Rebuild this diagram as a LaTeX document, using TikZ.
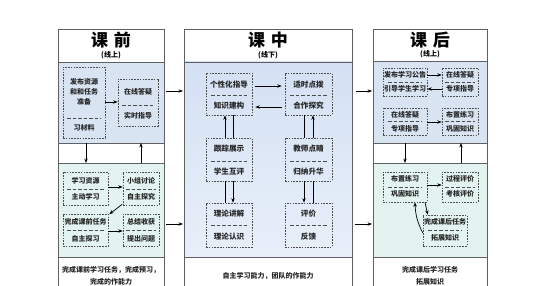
\documentclass[tikz,border=0pt]{standalone}
\usepackage{fontspec}
\setmainfont{Noto Sans CJK SC}
\usetikzlibrary{arrows.meta,calc}
\definecolor{blueA}{RGB}{217,228,243}
\definecolor{greenA}{RGB}{226,243,240}
\definecolor{blueT}{RGB}{212,225,244}
\definecolor{blueB}{RGB}{232,239,249}
\definecolor{frameC}{RGB}{95,95,100}
\begin{document}
\begin{tikzpicture}[x=1pt,y=-1pt,
  frame/.style={draw=frameC, line width=0.7pt},
  dbox/.style={draw=black!70, line width=0.55pt, dash pattern=on 1.6pt off 1.2pt, inner sep=0pt, rectangle},
  sepl/.style={draw=black!70, line width=0.55pt, dash pattern=on 3.5pt off 2pt},
  txt/.style={font=\bfseries\fontsize{7}{8}\selectfont, inner sep=0pt, text=black!85},
  ctxt/.style={font=\bfseries\fontsize{7.6}{9}\selectfont, inner sep=0pt, text=black!85},
  arr/.style={-{Stealth[length=4.5pt,width=3.4pt]}, line width=0.7pt},
  ln/.style={line width=0.7pt},
  ttl/.style={font=\bfseries\fontsize{17}{18}\selectfont, inner sep=0pt},
  subt/.style={font=\bfseries\fontsize{7}{8}\selectfont, inner sep=0pt},
]
\useasboundingbox (0,0) rectangle (554,286);
\fill[white] (0,0) rectangle (554,286);
% ---------- backgrounds ----------
\fill[blueA] (58,62) rectangle (164,143);
\fill[greenA] (58,163) rectangle (164,257);
\shade[top color=blueT, bottom color=blueB] (184,62) rectangle (352,257);
\fill[blueA] (373,61) rectangle (487,143);
\fill[greenA] (373,163) rectangle (487,257);
% ---------- frames ----------
\draw[frame] (58,287) -- (58,29) -- (164,29) -- (164,287);
\foreach \yy in {62,143,163,257} \draw[frame] (58,\yy) -- (164,\yy);
\draw[frame] (184,287) -- (184,29) -- (352,29) -- (352,287);
\foreach \yy in {62,257} \draw[frame] (184,\yy) -- (352,\yy);
\draw[frame] (373,287) -- (373,29) -- (487,29) -- (487,287);
\foreach \yy in {61,143,163,257} \draw[frame] (373,\yy) -- (487,\yy);
% ---------- headers ----------
\node[ttl] (h1) at (111,40) {课\hspace{0.35em}前};
\node[subt] (h1s) at (111,55) {(线上)};
\node[ttl] (h2) at (268,40) {课\hspace{0.35em}中};
\node[subt] (h2s) at (268,55) {(线下)};
\node[ttl] (h3) at (430,40) {课\hspace{0.35em}后};
\node[subt] (h3s) at (430,54) {(线上)};
% ---------- left column ----------
\node[dbox, minimum width=42pt, minimum height=71pt] (L1) at (84,102.5) {};
\node[txt] (L1a) at (84,82) {发布资源};
\node[txt] (L1b) at (84,92) {和和任务};
\node[txt] (L1c) at (84,101.5) {准备};
\draw[sepl] (67,118) -- (101,118);
\node[txt] (L1d) at (84,128) {习材料};
\node[dbox, minimum width=40pt, minimum height=47pt] (L2) at (138,102.5) {};
\node[txt] (L2a) at (138,92) {在线答疑};
\draw[sepl] (122,105) -- (154,105);
\node[txt] (L2b) at (138,116) {实时指导};
\draw[arr] (L1.east |- 0,102) -- (L2.west |- 0,102);

\coordinate (ls1) at (86,143); \coordinate (ls2) at (86,163);
\coordinate (ls3) at (141,163); \coordinate (ls4) at (141,143);
\draw[arr] (ls1) -- (ls2);
\draw[arr] (ls3) -- (ls4);

\node[dbox, minimum width=45pt, minimum height=33pt] (L3) at (85.5,188.5) {};
\node[txt] (L3a) at (85.5,181) {学习资源};
\draw[sepl] (67,189) -- (104,189);
\node[txt] (L3b) at (85.5,197) {主动学习};
\node[dbox, minimum width=36pt, minimum height=33pt] (L4) at (141,188.5) {};
\node[txt] (L4a) at (141,181) {小组讨论};
\draw[sepl] (126,189) -- (156,189);
\node[txt] (L4b) at (141,197) {自主探究};
\draw[arr] (L3.east |- 0,187) -- (L4.west |- 0,187);
\node[dbox, minimum width=45pt, minimum height=32pt] (L5) at (85.5,230) {};
\node[txt] (L5a) at (85.5,222) {完成课前任务};
\draw[sepl] (67,230.5) -- (104,230.5);
\node[txt] (L5b) at (85.5,239) {自主探习};
\node[dbox, minimum width=36pt, minimum height=32pt] (L6) at (141,230) {};
\node[txt] (L6a) at (141,222) {总结收获};
\draw[sepl] (126,230.5) -- (156,230.5);
\node[txt] (L6b) at (141,239) {提出问题};
\draw[arr] (L5.east |- 0,231) -- (L6.west |- 0,231);
\draw[arr] ([xshift=-0.5pt,yshift=1pt]L4.south west) -- ([xshift=1pt,yshift=-0.5pt]L5.north east);
\node[txt] (Lf1) at (111,270) {完成课前学习任务，完成预习，};
\node[txt] (Lf2) at (111,282) {完成的作能力};

% ---------- between columns ----------
\coordinate (b1) at (166,91); \coordinate (b2) at (183,91);
\coordinate (b3) at (166,224); \coordinate (b4) at (183,224);
\coordinate (b5) at (356,91); \coordinate (b6) at (372,91);
\coordinate (b7) at (355,224); \coordinate (b8) at (372,224);
\draw[arr] (b1) -- (b2);
\draw[arr] (b3) -- (b4);
\draw[arr] (b5) -- (b6);
\draw[arr] (b7) -- (b8);

% ---------- center column ----------
\node[dbox, minimum width=46pt, minimum height=42pt] (C1) at (229,94) {};
\node[ctxt] (C1a) at (229,85) {个性化指导};
\draw[sepl] (211,95) -- (247,95);
\node[ctxt] (C1b) at (229,106) {知识建构};
\node[dbox, minimum width=47pt, minimum height=42pt] (C2) at (308.5,94) {};
\node[ctxt] (C2a) at (308.5,85) {适时点拨};
\draw[sepl] (290,95) -- (327,95);
\node[ctxt] (C2b) at (308.5,106) {合作探究};
\node[dbox, minimum width=46pt, minimum height=43pt] (C3) at (229,159.5) {};
\node[ctxt] (C3a) at (229,149) {跟踪展示};
\draw[sepl] (211,161) -- (247,161);
\node[ctxt] (C3b) at (229,172) {学生互评};
\node[dbox, minimum width=47pt, minimum height=43pt] (C4) at (308.5,159.5) {};
\node[ctxt] (C4a) at (308.5,149) {教师点睛};
\draw[sepl] (290,161) -- (327,161);
\node[ctxt] (C4b) at (308.5,172) {归纳升华};
\node[dbox, minimum width=46pt, minimum height=44pt] (C5) at (229,225) {};
\node[ctxt] (C5a) at (229,214) {理论讲解};
\draw[sepl] (211,225.5) -- (247,225.5);
\node[ctxt] (C5b) at (229,237) {理论认识};
\node[dbox, minimum width=47pt, minimum height=44pt] (C6) at (308.5,225) {};
\node[ctxt] (C6a) at (308.5,214) {评价};
\draw[sepl] (290,225.5) -- (327,225.5);
\node[ctxt] (C6b) at (308.5,237) {反馈};
\draw[arr, shorten <=3pt, shorten >=3pt] (C1.east |- 0,86) -- (C2.west |- 0,86);
\draw[arr, shorten <=3pt, shorten >=3pt] (C2.west |- 0,107) -- (C1.east |- 0,107);
% verticals
\draw[arr] (C3.north -| 225,0) -- (C1.south -| 225,0);
\draw[ln] (C3.north -| 233,0) -- (C1.south -| 233,0);
\draw[ln] (C3.south -| 225,0) -- (C5.north -| 225,0);
\draw[arr] (C3.south -| 233,0) -- (C5.north -| 233,0);
\draw[ln] (C2.south -| 304,0) -- (C4.north -| 304,0);
\draw[arr] (C4.north -| 313,0) -- (C2.south -| 313,0);
\draw[arr] (C4.south -| 304,0) -- (C6.north -| 304,0);
\draw[ln] (C4.south -| 313,0) -- (C6.north -| 313,0);
\node[ctxt, font=\bfseries\fontsize{7}{8}\selectfont] (Cf) at (268,276) {自主学习能力，团队的作能力};

% ---------- right column ----------
\node[dbox, minimum width=44pt, minimum height=28pt] (R1) at (405,82) {};
\node[txt] (R1a) at (405,75) {发布学习公告};
\draw[sepl] (388,82) -- (422,82);
\node[txt] (R1b) at (405,89) {引导学生学习};
\node[dbox, minimum width=36pt, minimum height=28pt] (R2) at (460,82) {};
\node[txt] (R2a) at (460,75) {在线答疑};
\draw[sepl] (445,82) -- (475,82);
\node[txt] (R2b) at (460,89) {专项指导};
\draw[arr] (R1.east |- 0,75) -- (R2.west |- 0,75);
\draw[arr] (R2.west |- 0,89) -- (R1.east |- 0,89);
\node[dbox, minimum width=44pt, minimum height=27pt] (R3) at (405,121.5) {};
\node[txt] (R3a) at (405,115) {在线答疑};
\draw[sepl] (388,121.5) -- (422,121.5);
\node[txt] (R3b) at (405,129) {专项指导};
\node[dbox, minimum width=36pt, minimum height=27pt] (R4) at (460,121.5) {};
\node[txt] (R4a) at (460,115) {布置练习};
\draw[sepl] (445,121.5) -- (475,121.5);
\node[txt] (R4b) at (460,129) {巩固知识};
\draw[arr] (R3.east |- 0,122) -- (R4.west |- 0,122);

\coordinate (rs1) at (405,143); \coordinate (rs2) at (405,163);
\coordinate (rs3) at (461,163); \coordinate (rs4) at (461,143);
\draw[arr] (rs1) -- (rs2);
\draw[arr] (rs3) -- (rs4);

\node[dbox, minimum width=44pt, minimum height=30pt] (R5) at (405,187) {};
\node[txt] (R5a) at (405,179) {布置练习};
\draw[sepl] (388,187) -- (422,187);
\node[txt] (R5b) at (405,194) {巩固知识};
\node[dbox, minimum width=36pt, minimum height=30pt] (R6) at (460,187) {};
\node[txt] (R6a) at (460,179) {过程评价};
\draw[sepl] (445,187) -- (475,187);
\node[txt] (R6b) at (460,194) {考核评价};
\draw[arr] (R5.east |- 0,185) -- (R6.west |- 0,185);
\node[dbox, minimum width=44pt, minimum height=31pt] (R7) at (445,230.5) {};
\node[txt] (R7a) at (445,222) {完成课后任务};
\draw[sepl] (428,230) -- (462,230);
\node[txt] (R7b) at (445,238) {拓展知识};
\draw[arr] (R5.south -| 425,0) -- ([xshift=5pt]R7.north west);
\draw[arr] ([yshift=-2.5pt]R7.west) to[bend left=12] (R5.south -| 415,0);
\node[txt] (Rf1) at (430,270) {完成课后学习任务};
\node[txt] (Rf2) at (430,282) {拓展知识};
\end{tikzpicture}
\end{document}
